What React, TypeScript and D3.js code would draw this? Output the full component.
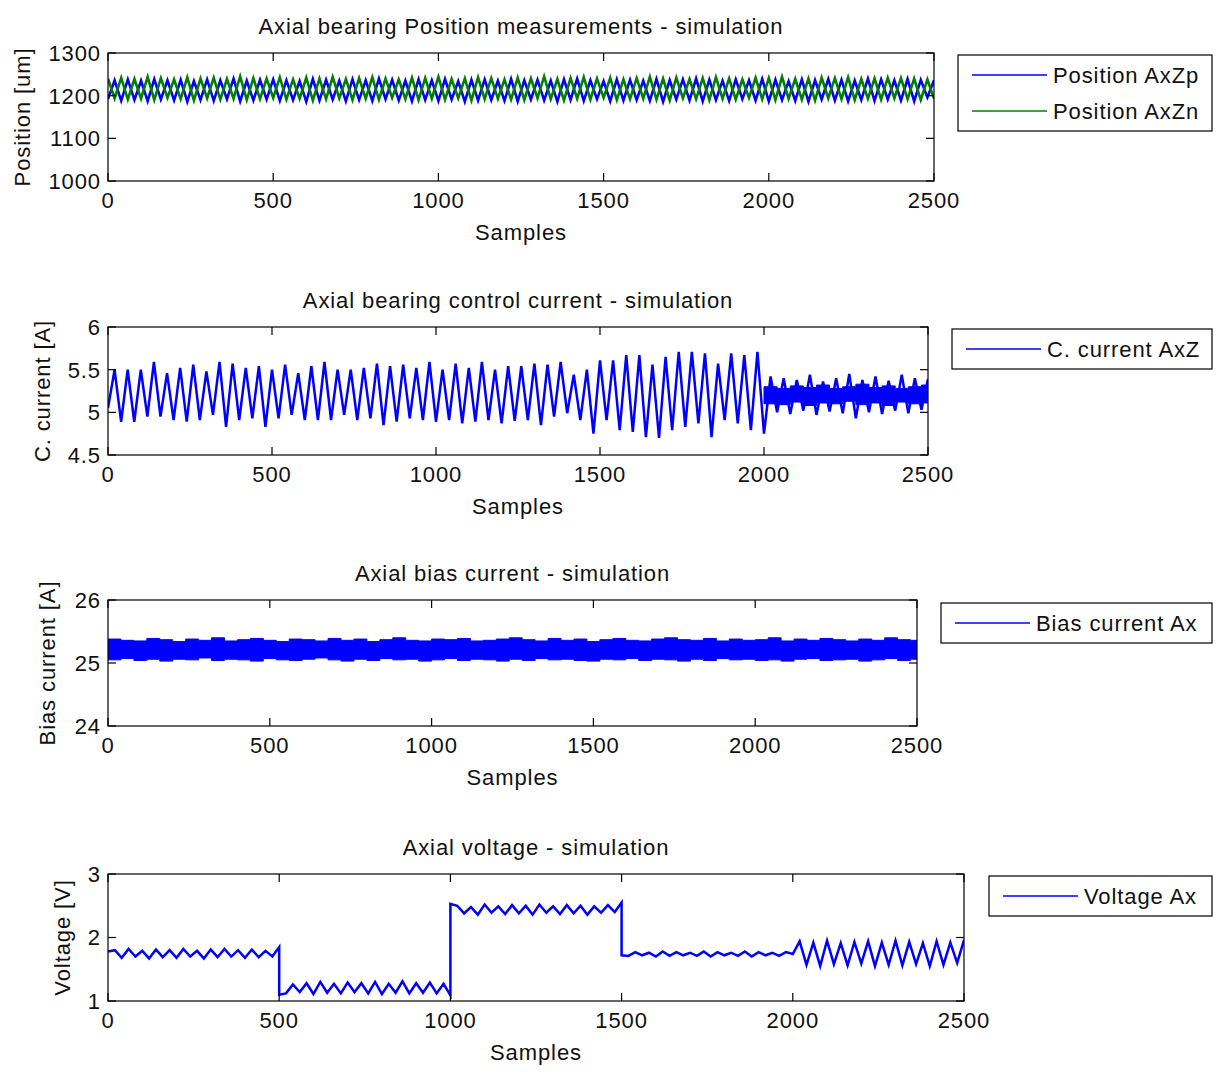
import * as d3 from "d3";

const W = 1219;
const H = 1077;
const FONT = "'Liberation Sans', Arial, sans-serif";
const FS = 22;

const xTicks = [0, 500, 1000, 1500, 2000, 2500];
// samples per oscillation cycle (~62 cycles over 2500)
const PERIOD = 40;

// Position AxZp (blue): low at cycle start, high half a cycle later
const zpLo = [1192, 1188, 1190, 1187, 1191, 1189, 1186, 1190, 1188, 1192, 1187, 1189, 1191, 1188, 1190, 1186, 1189, 1191, 1187, 1190, 1188, 1192, 1189, 1187, 1190, 1188, 1191, 1186, 1189, 1190, 1188, 1187, 1191, 1189, 1186, 1190, 1188, 1192, 1187, 1189, 1190, 1188, 1186, 1191, 1189, 1187, 1190, 1188, 1192, 1189, 1187, 1190, 1188, 1186, 1191, 1189, 1187, 1190, 1188, 1191, 1189, 1187, 1196];
const zpHi = [1236, 1238, 1235, 1239, 1236, 1237, 1234, 1238, 1236, 1240, 1235, 1237, 1238, 1236, 1234, 1239, 1237, 1235, 1238, 1236, 1240, 1237, 1235, 1238, 1236, 1239, 1234, 1237, 1238, 1235, 1239, 1236, 1237, 1235, 1238, 1240, 1236, 1234, 1238, 1237, 1235, 1239, 1236, 1238, 1240, 1237, 1235, 1238, 1236, 1239, 1237, 1234, 1238, 1236, 1239, 1237, 1235, 1240, 1238, 1236, 1239, 1237, 1236];
// Position AxZn (green), in antiphase
const znHi = [1240, 1242, 1239, 1244, 1241, 1238, 1243, 1240, 1242, 1239, 1245, 1241, 1240, 1243, 1238, 1242, 1240, 1244, 1239, 1241, 1243, 1240, 1238, 1242, 1241, 1244, 1239, 1240, 1243, 1241, 1238, 1242, 1240, 1245, 1239, 1241, 1243, 1240, 1242, 1238, 1241, 1244, 1240, 1242, 1239, 1241, 1243, 1240, 1238, 1242, 1241, 1244, 1239, 1240, 1242, 1241, 1243, 1239, 1240, 1242, 1241, 1240, 1238];
const znLo = [1194, 1191, 1193, 1190, 1195, 1192, 1189, 1194, 1191, 1193, 1190, 1192, 1195, 1191, 1193, 1189, 1192, 1194, 1190, 1193, 1191, 1195, 1192, 1190, 1193, 1191, 1194, 1189, 1192, 1193, 1191, 1190, 1194, 1192, 1189, 1193, 1191, 1195, 1190, 1192, 1193, 1191, 1189, 1194, 1192, 1190, 1193, 1191, 1195, 1192, 1190, 1193, 1191, 1189, 1194, 1192, 1190, 1193, 1191, 1194, 1192, 1190, 1193];

// Control current AxZ, troughs and peaks per cycle
const cTrough = [5.05, 4.89, 4.89, 4.95, 4.95, 4.91, 4.89, 4.91, 4.97, 4.83, 4.91, 4.93, 4.83, 4.93, 4.97, 4.91, 4.91, 4.91, 4.97, 4.91, 4.93, 4.85, 4.89, 4.93, 4.91, 4.89, 4.91, 4.87, 4.89, 4.91, 4.87, 4.9, 4.91, 4.85, 4.95, 4.99, 4.91, 4.75, 4.91, 4.79, 4.77, 4.71, 4.7, 4.79, 4.83, 4.87, 4.71, 4.91, 4.87, 4.79, 4.75, 5.0, 4.98, 5.02, 4.97, 5.01, 4.99, 4.93, 5.0, 4.98, 5.02, 4.99, 5.03];
const cPeak = [5.5, 5.5, 5.5, 5.59, 5.46, 5.52, 5.56, 5.48, 5.59, 5.57, 5.52, 5.54, 5.5, 5.56, 5.46, 5.54, 5.59, 5.5, 5.5, 5.52, 5.57, 5.54, 5.56, 5.52, 5.59, 5.5, 5.57, 5.52, 5.59, 5.5, 5.54, 5.54, 5.57, 5.56, 5.59, 5.44, 5.5, 5.61, 5.61, 5.67, 5.67, 5.56, 5.65, 5.71, 5.71, 5.69, 5.57, 5.69, 5.67, 5.71, 5.42, 5.4, 5.38, 5.44, 5.36, 5.4, 5.45, 5.38, 5.42, 5.37, 5.44, 5.4, 5.39];
// dense noise band after sample 2000
const cBandStart = 2000;
const cBandHi = [5.3, 5.28, 5.31, 5.29, 5.32, 5.28, 5.3, 5.33, 5.29, 5.31, 5.28, 5.3, 5.32];
const cBandLo = [5.1, 5.09, 5.12, 5.08, 5.11, 5.1, 5.13, 5.09, 5.11, 5.08, 5.12, 5.1, 5.11];

// Bias current Ax, upper / lower edge of the noise band per cycle
const biasHi = [25.38, 25.36, 25.35, 25.39, 25.37, 25.34, 25.38, 25.36, 25.4, 25.35, 25.37, 25.39, 25.36, 25.34, 25.38, 25.37, 25.35, 25.39, 25.36, 25.38, 25.34, 25.37, 25.4, 25.36, 25.35, 25.38, 25.37, 25.39, 25.35, 25.36, 25.38, 25.4, 25.37, 25.35, 25.39, 25.36, 25.38, 25.34, 25.37, 25.39, 25.36, 25.35, 25.38, 25.4, 25.37, 25.36, 25.39, 25.35, 25.38, 25.36, 25.37, 25.4, 25.35, 25.38, 25.36, 25.39, 25.37, 25.35, 25.38, 25.36, 25.4, 25.37, 25.36];
const biasLo = [25.05, 25.07, 25.04, 25.06, 25.03, 25.06, 25.05, 25.08, 25.04, 25.06, 25.05, 25.03, 25.07, 25.05, 25.04, 25.06, 25.08, 25.05, 25.03, 25.06, 25.04, 25.07, 25.05, 25.06, 25.03, 25.05, 25.07, 25.04, 25.06, 25.05, 25.03, 25.06, 25.04, 25.07, 25.05, 25.06, 25.04, 25.03, 25.06, 25.05, 25.07, 25.04, 25.06, 25.05, 25.03, 25.06, 25.04, 25.07, 25.05, 25.06, 25.04, 25.05, 25.03, 25.06, 25.07, 25.04, 25.05, 25.06, 25.03, 25.05, 25.07, 25.04, 25.06];

// Voltage Ax
const vLo = [1.78, 1.68, 1.7, 1.67, 1.69, 1.68, 1.7, 1.67, 1.69, 1.7, 1.68, 1.69, 1.7, 1.12, 1.14, 1.11, 1.13, 1.12, 1.14, 1.12, 1.11, 1.13, 1.12, 1.13, 1.12, 1.09, 2.38, 2.36, 2.39, 2.37, 2.38, 2.36, 2.39, 2.37, 2.38, 2.36, 2.39, 2.4, 1.71, 1.72, 1.7, 1.71, 1.72, 1.71, 1.7, 1.72, 1.71, 1.7, 1.72, 1.71, 1.74, 1.57, 1.55, 1.58, 1.56, 1.59, 1.55, 1.57, 1.56, 1.58, 1.55, 1.57, 1.6];
const vHi = [1.8, 1.82, 1.79, 1.81, 1.8, 1.82, 1.79, 1.81, 1.82, 1.8, 1.81, 1.79, 1.85, 1.26, 1.28, 1.3, 1.27, 1.29, 1.28, 1.3, 1.27, 1.31, 1.28, 1.29, 1.27, 2.5, 2.48, 2.52, 2.49, 2.51, 2.5, 2.52, 2.49, 2.51, 2.5, 2.49, 2.51, 2.55, 1.77, 1.76, 1.78, 1.77, 1.76, 1.78, 1.77, 1.76, 1.78, 1.77, 1.76, 1.77, 1.94, 1.92, 1.95, 1.91, 1.93, 1.94, 1.92, 1.95, 1.93, 1.91, 1.94, 1.92, 1.96];
// set-point steps: [sample, value right after the step]
const vSteps: [number, number][] = [[500, 1.1], [1000, 2.53], [1500, 1.72]];

type Pt = [number, number];

// first array sits at cycle start, second half a cycle later
function zigzag(a: number[], b: number[], steps: Pt[] = []): Pt[] {
  const pts: Pt[] = [];
  const n = Math.min(a.length, b.length);
  for (let k = 0; k < n; k++) {
    pts.push([k * PERIOD, a[k]]);
    pts.push([k * PERIOD + PERIOD / 2, b[k]]);
  }
  const out: Pt[] = [];
  pts.filter((p) => p[0] <= 2500).forEach((p) => {
    out.push(p);
    const st = steps.find((s) => s[0] === p[0]);
    if (st) out.push([st[0], st[1]]);
  });
  return out;
}

type Series = { pts: Pt[]; color: string; width: number };
type Band = { start: number; hi: number[]; lo: number[]; color: string };

interface PanelProps {
  id: string;
  x0: number;
  x1: number;
  y0: number;
  y1: number;
  yDomain: [number, number];
  yTicks: number[];
  title: string;
  yLabel: string;
  yLabelX: number;
  series: Series[];
  bands?: Band[];
  legend: { name: string; color: string }[];
  legendX: number;
  legendY: number;
}

function Panel(p: PanelProps) {
  const x = d3.scaleLinear().domain([0, 2500]).range([p.x0, p.x1]);
  const y = d3.scaleLinear().domain(p.yDomain).range([p.y1, p.y0]);
  const line = d3
    .line<Pt>()
    .x((d) => x(d[0]))
    .y((d) => y(d[1]));
  const area = d3
    .area<{ s: number; hi: number; lo: number }>()
    .x((d) => x(d.s))
    .y0((d) => y(d.lo))
    .y1((d) => y(d.hi))
    .curve(d3.curveStepAfter);
  const tick = 8;
  const cx = (p.x0 + p.x1) / 2;
  const legH = 4 + 36 * p.legend.length;

  return (
    <g fontFamily={FONT} fontSize={FS} fill="#111" letterSpacing={0.9}>
      <defs>
        <clipPath id={p.id}>
          <rect x={p.x0} y={p.y0} width={p.x1 - p.x0} height={p.y1 - p.y0} />
        </clipPath>
      </defs>
      <g clipPath={`url(#${p.id})`}>
        {(p.bands || []).map((b, i) => {
          const rows = b.hi.map((h, k) => ({ s: b.start + k * PERIOD, hi: h, lo: b.lo[k] }));
          const last = rows[rows.length - 1];
          rows.push({ ...last, s: last.s + PERIOD });
          return <path key={"b" + i} d={area(rows) || ""} fill={b.color} stroke={b.color} strokeWidth={1} />;
        })}
        {p.series.map((s, i) => (
          <path key={i} d={line(s.pts) || ""} fill="none" stroke={s.color} strokeWidth={s.width} strokeLinejoin="miter" />
        ))}
      </g>
      <rect x={p.x0} y={p.y0} width={p.x1 - p.x0} height={p.y1 - p.y0} fill="none" stroke="#000" strokeWidth={1.2} />
      {xTicks.map((t) => (
        <g key={"x" + t}>
          <line x1={x(t)} x2={x(t)} y1={p.y1} y2={p.y1 - tick} stroke="#000" strokeWidth={1.2} />
          <line x1={x(t)} x2={x(t)} y1={p.y0} y2={p.y0 + tick} stroke="#000" strokeWidth={1.2} />
          <text x={x(t)} y={p.y1 + 27} textAnchor="middle">
            {t}
          </text>
        </g>
      ))}
      {p.yTicks.map((t) => (
        <g key={"y" + t}>
          <line x1={p.x0} x2={p.x0 + tick} y1={y(t)} y2={y(t)} stroke="#000" strokeWidth={1.2} />
          <line x1={p.x1} x2={p.x1 - tick} y1={y(t)} y2={y(t)} stroke="#000" strokeWidth={1.2} />
          <text x={p.x0 - 7} y={y(t)} dy="0.36em" textAnchor="end">
            {t}
          </text>
        </g>
      ))}
      <text x={cx} y={p.y0 - 19} textAnchor="middle">
        {p.title}
      </text>
      <text x={cx} y={p.y1 + 59} textAnchor="middle">
        Samples
      </text>
      <text
        transform={`translate(${p.yLabelX},${(p.y0 + p.y1) / 2}) rotate(-90)`}
        dy="0.36em"
        textAnchor="middle"
      >
        {p.yLabel}
      </text>
      <rect x={p.legendX} y={p.legendY} width={1212 - p.legendX} height={legH} fill="#fff" stroke="#000" strokeWidth={1.2} />
      {p.legend.map((l, i) => {
        const ly = p.legendY + 20 + i * 36;
        return (
          <g key={l.name}>
            <line x1={p.legendX + 14} x2={p.legendX + 89} y1={ly} y2={ly} stroke={l.color} strokeWidth={1.5} />
            <text x={p.legendX + 95} y={ly} dy="0.36em">
              {l.name}
            </text>
          </g>
        );
      })}
    </g>
  );
}

export default function App() {
  const blue = "#0000ff";
  const green = "#008000";
  return (
    <svg width={W} height={H} style={{ position: "absolute", left: 0, top: 0, background: "#fff" }}>
      <rect width={W} height={H} fill="#fff" />
      <Panel
        id="c1"
        x0={108}
        x1={934}
        y0={53}
        y1={181}
        yDomain={[1000, 1300]}
        yTicks={[1000, 1100, 1200, 1300]}
        title="Axial bearing Position measurements - simulation"
        yLabel="Position [um]"
        yLabelX={22}
        series={[
          { pts: zigzag(zpLo, zpHi), color: blue, width: 2.6 },
          { pts: zigzag(znHi, znLo), color: green, width: 2.6 },
        ]}
        legend={[
          { name: "Position AxZp", color: blue },
          { name: "Position AxZn", color: green },
        ]}
        legendX={958}
        legendY={55}
      />
      <Panel
        id="c2"
        x0={108}
        x1={928}
        y0={327}
        y1={455}
        yDomain={[4.5, 6]}
        yTicks={[4.5, 5, 5.5, 6]}
        title="Axial bearing control current - simulation"
        yLabel="C. current [A]"
        yLabelX={42}
        series={[{ pts: zigzag(cTrough, cPeak), color: blue, width: 2.5 }]}
        bands={[{ start: cBandStart, hi: cBandHi, lo: cBandLo, color: blue }]}
        legend={[{ name: "C. current AxZ", color: blue }]}
        legendX={952}
        legendY={329}
      />
      <Panel
        id="c3"
        x0={108}
        x1={917}
        y0={600}
        y1={726}
        yDomain={[24, 26]}
        yTicks={[24, 25, 26]}
        title="Axial bias current - simulation"
        yLabel="Bias current [A]"
        yLabelX={47}
        series={[]}
        bands={[{ start: 0, hi: biasHi, lo: biasLo, color: blue }]}
        legend={[{ name: "Bias current Ax", color: blue }]}
        legendX={941}
        legendY={603}
      />
      <Panel
        id="c4"
        x0={108}
        x1={964}
        y0={874}
        y1={1001}
        yDomain={[1, 3]}
        yTicks={[1, 2, 3]}
        title="Axial voltage - simulation"
        yLabel="Voltage [V]"
        yLabelX={62}
        series={[{ pts: zigzag(vLo, vHi, vSteps), color: blue, width: 2.5 }]}
        legend={[{ name: "Voltage Ax", color: blue }]}
        legendX={989}
        legendY={876}
      />
    </svg>
  );
}
